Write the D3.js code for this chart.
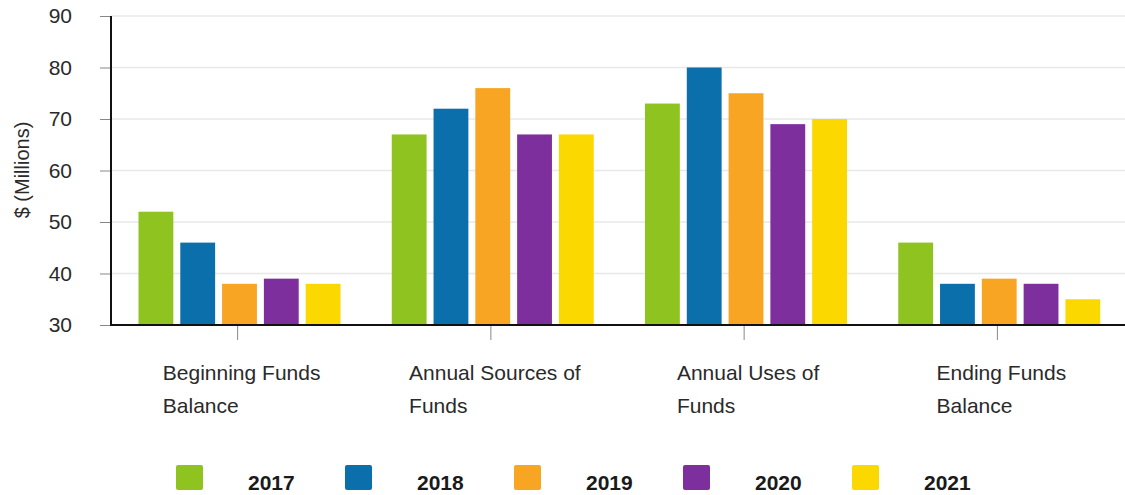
<!DOCTYPE html>
<html>
<head>
<meta charset="utf-8">
<script src="https://cdn.jsdelivr.net/npm/d3@7"></script>
<style>
  html, body { margin: 0; padding: 0; background: #fff; }
  svg { display: block; font-family: "Liberation Sans", Arial, sans-serif; }
</style>
</head>
<body>
<svg id="chart" width="1125" height="495"></svg>
<script>
// Fund categories (each label split onto two lines)
const categories = [
  ["Beginning Funds", "Balance"],
  ["Annual Sources of", "Funds"],
  ["Annual Uses of", "Funds"],
  ["Ending Funds", "Balance"]
];
const years = ["2017", "2018", "2019", "2020", "2021"];
const colors = ["#8fc31f", "#0b6fac", "#f8a523", "#7e2f9e", "#fbd800"];

// $ millions per category, one value per year
const v2017 = [52, 67, 73, 46];
const v2018 = [46, 72, 80, 38];
const v2019 = [38, 76, 75, 39];
const v2020 = [39, 67, 69, 38];
const v2021 = [38, 67, 70, 35];
const series = [v2017, v2018, v2019, v2020, v2021];

const yTicks = [30, 40, 50, 60, 70, 80, 90];

const svg = d3.select("#chart");
const plotLeft = 111, plotRight = 1124, plotTop = 16, plotBottom = 325;

const x = d3.scaleBand()
  .domain(d3.range(categories.length))
  .range([plotLeft, plotRight])
  .padding(0);

const xYear = d3.scaleBand()
  .domain(years)
  .range([27.5, 229.5])
  .paddingInner(7 / 42)
  .paddingOuter(0);

const y = d3.scaleLinear().domain([30, 90]).range([plotBottom, plotTop]);

// horizontal gridlines
svg.append("g")
  .selectAll("line")
  .data(yTicks.filter(t => t > 30))
  .join("line")
  .attr("x1", plotLeft).attr("x2", 1125)
  .attr("y1", d => y(d)).attr("y2", d => y(d))
  .attr("stroke", "#e8e8e8")
  .attr("stroke-width", 1.5);

// y axis
const yAxis = svg.append("g")
  .attr("transform", `translate(${plotLeft},0)`)
  .call(d3.axisLeft(y).tickValues(yTicks).tickSize(11).tickPadding(28));
yAxis.select(".domain").remove();
yAxis.selectAll(".tick line").attr("stroke", "#888").attr("stroke-width", 1);
yAxis.selectAll(".tick text")
  .attr("font-size", 21)
  .attr("fill", "#2a2a2a")
  .attr("font-family", "Liberation Sans, Arial, sans-serif");

// bars
const groups = svg.append("g")
  .selectAll("g")
  .data(categories.map((c, i) => i))
  .join("g")
  .attr("transform", i => `translate(${x(i)},0)`);

groups.selectAll("rect")
  .data(i => years.map((yr, k) => ({ yr, k, v: series[k][i] })))
  .join("rect")
  .attr("x", d => xYear(d.yr))
  .attr("width", xYear.bandwidth())
  .attr("y", d => y(d.v))
  .attr("height", d => plotBottom - y(d.v))
  .attr("fill", d => colors[d.k]);

// axis lines
svg.append("line")
  .attr("x1", plotLeft).attr("x2", plotLeft)
  .attr("y1", plotTop).attr("y2", plotBottom + 1)
  .attr("stroke", "#111").attr("stroke-width", 2);
svg.append("line")
  .attr("x1", plotLeft - 1).attr("x2", 1125)
  .attr("y1", plotBottom).attr("y2", plotBottom)
  .attr("stroke", "#111").attr("stroke-width", 2);

// category ticks
svg.append("g")
  .selectAll("line")
  .data(categories.map((c, i) => i))
  .join("line")
  .attr("x1", i => x(i) + x.bandwidth() / 2)
  .attr("x2", i => x(i) + x.bandwidth() / 2)
  .attr("y1", plotBottom + 1).attr("y2", plotBottom + 15)
  .attr("stroke", "#888").attr("stroke-width", 1);

// category labels, left-aligned block centred under each group
categories.forEach((lines, i) => {
  const g = svg.append("g");
  const texts = lines.map((ln, j) =>
    g.append("text")
      .attr("y", 380 + j * 33)
      .attr("font-size", 21)
      .attr("fill", "#2a2a2a")
      .text(ln));
  const w = d3.max(texts, t => t.node().getComputedTextLength());
  const x0 = x(i) + x.bandwidth() / 2 + 4 - w / 2;
  texts.forEach(t => t.attr("x", x0));
});

// y axis title
svg.append("text")
  .attr("transform", "translate(29,170) rotate(-90)")
  .attr("text-anchor", "middle")
  .attr("font-size", 20)
  .attr("fill", "#2a2a2a")
  .text("$ (Millions)");

// legend
const legend = svg.append("g")
  .selectAll("g")
  .data(years)
  .join("g")
  .attr("transform", (d, k) => `translate(${176 + k * 169},0)`);
legend.append("rect")
  .attr("x", 0).attr("y", 465)
  .attr("width", 27).attr("height", 25)
  .attr("rx", 2)
  .attr("fill", (d, k) => colors[k]);
legend.append("text")
  .attr("x", 72).attr("y", 490)
  .attr("font-size", 21)
  .attr("font-weight", "bold")
  .attr("fill", "#1a1a1a")
  .text(d => d);
</script>
</body>
</html>
